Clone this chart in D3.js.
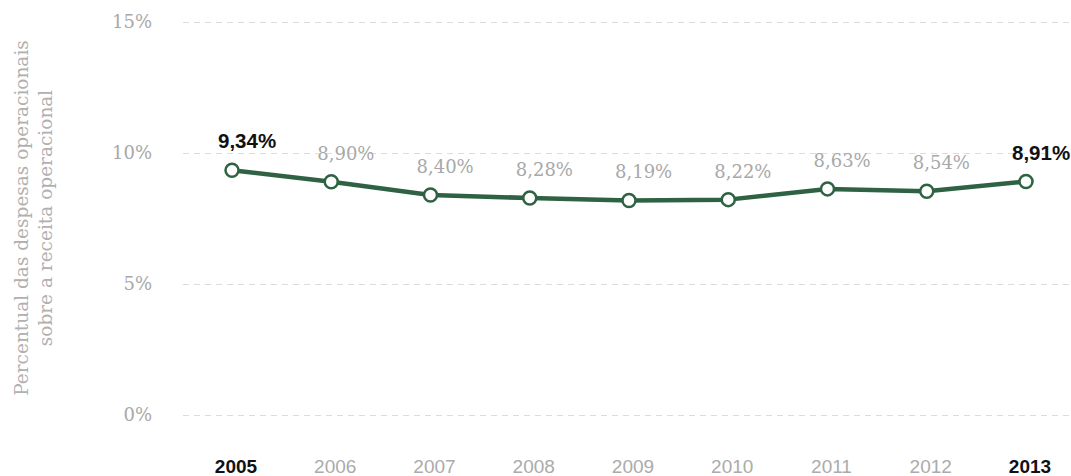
<!DOCTYPE html>
<html lang="pt">
<head>
<meta charset="UTF-8">
<title>Despesas operacionais</title>
<style>
    body { margin: 0; background: #fff; }
    svg { display: block; }
    .grid line { stroke: #dcdcdc; stroke-width: 1px; stroke-dasharray: 6,5; }
    .tick-label { font-family: "DejaVu Serif", serif; font-size: 18px; fill: #a8a8a8; }
    .axis-title { font-family: "DejaVu Serif", serif; font-size: 18.5px; fill: #b0b0b0; }
    .year { font-family: "Liberation Sans", sans-serif; font-size: 19px; fill: #ababab; }
    .year.hl { fill: #111; font-weight: bold; }
    .val { font-family: "DejaVu Serif", serif; font-size: 18px; fill: #a8a8a8; }
    .val.hl { font-family: "Liberation Sans", sans-serif; fill: #111; font-weight: bold; font-size: 20.5px; }
</style>
</head>
<body>
<div id="chart"></div>
<script src="https://d3js.org/d3.v7.min.js"></script>
<script>
var years = ["2005", "2006", "2007", "2008", "2009", "2010", "2011", "2012", "2013"];
var values = [9.34, 8.90, 8.40, 8.28, 8.19, 8.22, 8.63, 8.54, 8.91];
var labels = ["9,34%", "8,90%", "8,40%", "8,28%", "8,19%", "8,22%", "8,63%", "8,54%", "8,91%"];
var yTicks = [0, 5, 10, 15];
var highlight = ["2005", "2013"];

var width = 1071, height = 476;
var svg = d3.select("#chart").append("svg")
    .attr("width", width)
    .attr("height", height);

var x = d3.scalePoint()
    .domain(years)
    .range([232, 1026]);

var y = d3.scaleLinear()
    .domain([0, 15])
    .range([415, 22]);

// grid
var grid = svg.append("g").attr("class", "grid");
grid.selectAll("line")
    .data(yTicks)
    .enter().append("line")
    .attr("x1", 183)
    .attr("x2", width)
    .attr("y1", function(d) { return Math.round(y(d)) + 0.5; })
    .attr("y2", function(d) { return Math.round(y(d)) + 0.5; });

svg.selectAll("text.tick-label")
    .data(yTicks)
    .enter().append("text")
    .attr("class", "tick-label")
    .attr("x", 152)
    .attr("y", function(d) { return y(d) + 6; })
    .attr("text-anchor", "end")
    .text(function(d) { return d + "%"; });

// axis title
var title = svg.append("text")
    .attr("class", "axis-title")
    .attr("transform", "translate(28,218) rotate(-90)")
    .attr("text-anchor", "middle");
title.append("tspan").attr("x", 0).attr("dy", 0).text("Percentual das despesas operacionais");
title.append("tspan").attr("x", 0).attr("dy", 24).text("sobre a receita operacional");

// years
svg.selectAll("text.year")
    .data(years)
    .enter().append("text")
    .attr("class", function(d) { return highlight.indexOf(d) >= 0 ? "year hl" : "year"; })
    .attr("x", function(d) { return x(d) + 4; })
    .attr("y", 473)
    .attr("text-anchor", "middle")
    .text(function(d) { return d; });

var data = years.map(function(d, i) { return { year: d, value: values[i], label: labels[i] }; });

var line = d3.line()
    .x(function(d) { return x(d.year); })
    .y(function(d) { return y(d.value); });

svg.append("path")
    .datum(data)
    .attr("d", line)
    .attr("fill", "none")
    .attr("stroke", "#2e6242")
    .attr("stroke-width", 4.5)
    .attr("stroke-linejoin", "round");

svg.selectAll("circle")
    .data(data)
    .enter().append("circle")
    .attr("cx", function(d) { return x(d.year); })
    .attr("cy", function(d) { return y(d.value); })
    .attr("r", 6.5)
    .attr("fill", "#fff")
    .attr("stroke", "#2e6242")
    .attr("stroke-width", 2.5);

svg.selectAll("text.val")
    .data(data)
    .enter().append("text")
    .attr("class", function(d) { return highlight.indexOf(d.year) >= 0 ? "val hl" : "val"; })
    .attr("x", function(d) { return x(d.year) - 14; })
    .attr("y", function(d) { return y(d.value) - 22; })
    .text(function(d) { return d.label; });
</script>
</body>
</html>
